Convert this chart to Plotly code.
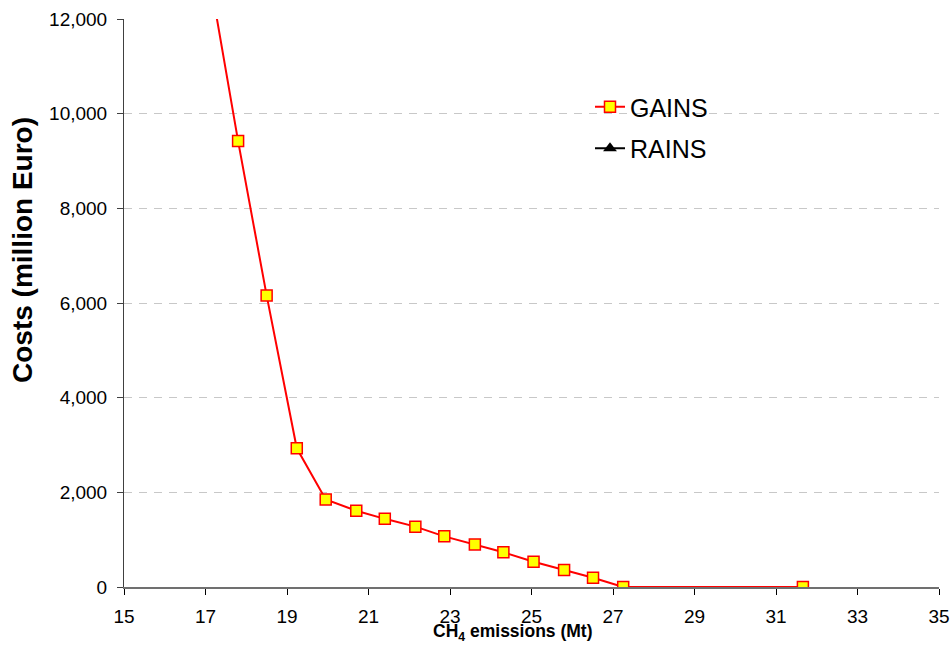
import plotly.graph_objects as go

# GAINS cost curve for CH4
emissions = [17.08, 17.80, 18.50, 19.24, 19.95, 20.70, 21.40, 22.15, 22.86,
             23.61, 24.31, 25.05, 25.80, 26.51, 27.25, 31.66]
costs = [13000, 9420, 6160, 2930, 1850, 1610, 1440, 1275, 1070,
         900, 733, 535, 359, 197, 0, 0]

x_ticks = [15, 17, 19, 21, 23, 25, 27, 29, 31, 33, 35]
y_ticks = [0, 2000, 4000, 6000, 8000, 10000, 12000]

FONT = "Liberation Sans, Arial, sans-serif"

fig = go.Figure()

fig.add_trace(go.Scatter(
    x=emissions, y=costs,
    mode="lines+markers",
    name="GAINS",
    legendgroup="g",
    line={"color": "#ff0000", "width": 2},
    marker={"symbol": "square", "size": 11, "color": "#ffff00",
            "line": {"color": "#ff0000", "width": 1.5}},
))

# RAINS appears only in the legend
fig.add_trace(go.Scatter(
    x=[None], y=[None],
    mode="lines+markers",
    name="RAINS",
    legendgroup="r",
    line={"color": "#000000", "width": 2},
    marker={"symbol": "triangle-up", "size": 12, "color": "#000000"},
))

fig.update_layout(
    width=951, height=666,
    paper_bgcolor="white", plot_bgcolor="white",
    margin={"l": 124, "r": 12, "t": 19, "b": 79, "autoexpand": False},
    font={"family": FONT, "color": "#000000"},
    legend={
        "x": (590 - 124) / 815, "y": (587 - 84) / 568,
        "xanchor": "left", "yanchor": "top",
        "font": {"size": 25, "family": FONT},
        "bgcolor": "rgba(0,0,0,0)",
        "tracegroupgap": 6,
    },
    xaxis={
        "range": [15, 35],
        "tickvals": x_ticks,
        "automargin": False,
        "showgrid": False, "zeroline": False,
        "showline": True, "linecolor": "#707070", "linewidth": 2,
        "ticks": "outside", "ticklen": 6, "tickcolor": "#000000",
        "tickfont": {"size": 19},
        "ticklabelstandoff": 5,
    },
    yaxis={
        "range": [0, 12000],
        "tickvals": y_ticks,
        "tickformat": ",d",
        "automargin": False,
        "showgrid": True, "gridcolor": "#c8c8c8", "griddash": "8px,7px",
        "gridwidth": 1,
        "zeroline": False,
        "showline": True, "linecolor": "#404040", "linewidth": 1,
        "ticks": "outside", "ticklen": 6, "tickcolor": "#404040",
        "tickfont": {"size": 19},
        "ticklabelstandoff": 6,
    },
    annotations=[
        {
            "text": "<b>Costs (million Euro)</b>",
            "xref": "paper", "yref": "paper",
            "x": (23 - 124) / 815, "y": (587 - 250) / 568,
            "xanchor": "center", "yanchor": "middle",
            "textangle": -90, "showarrow": False,
            "font": {"size": 28, "family": FONT},
        },
        {
            "text": "<b>CH<sub>4</sub> emissions (Mt)</b>",
            "xref": "paper", "yref": "paper",
            "x": (513 - 124) / 815, "y": (587 - 632) / 568,
            "xanchor": "center", "yanchor": "middle",
            "showarrow": False,
            "font": {"size": 17.5, "family": FONT},
        },
    ],
)

# drop the page's default body margin so the figure fills the window
fig.write_html("out.html", config={"displayModeBar": False},
               post_script="document.body.style.margin = '0';")
